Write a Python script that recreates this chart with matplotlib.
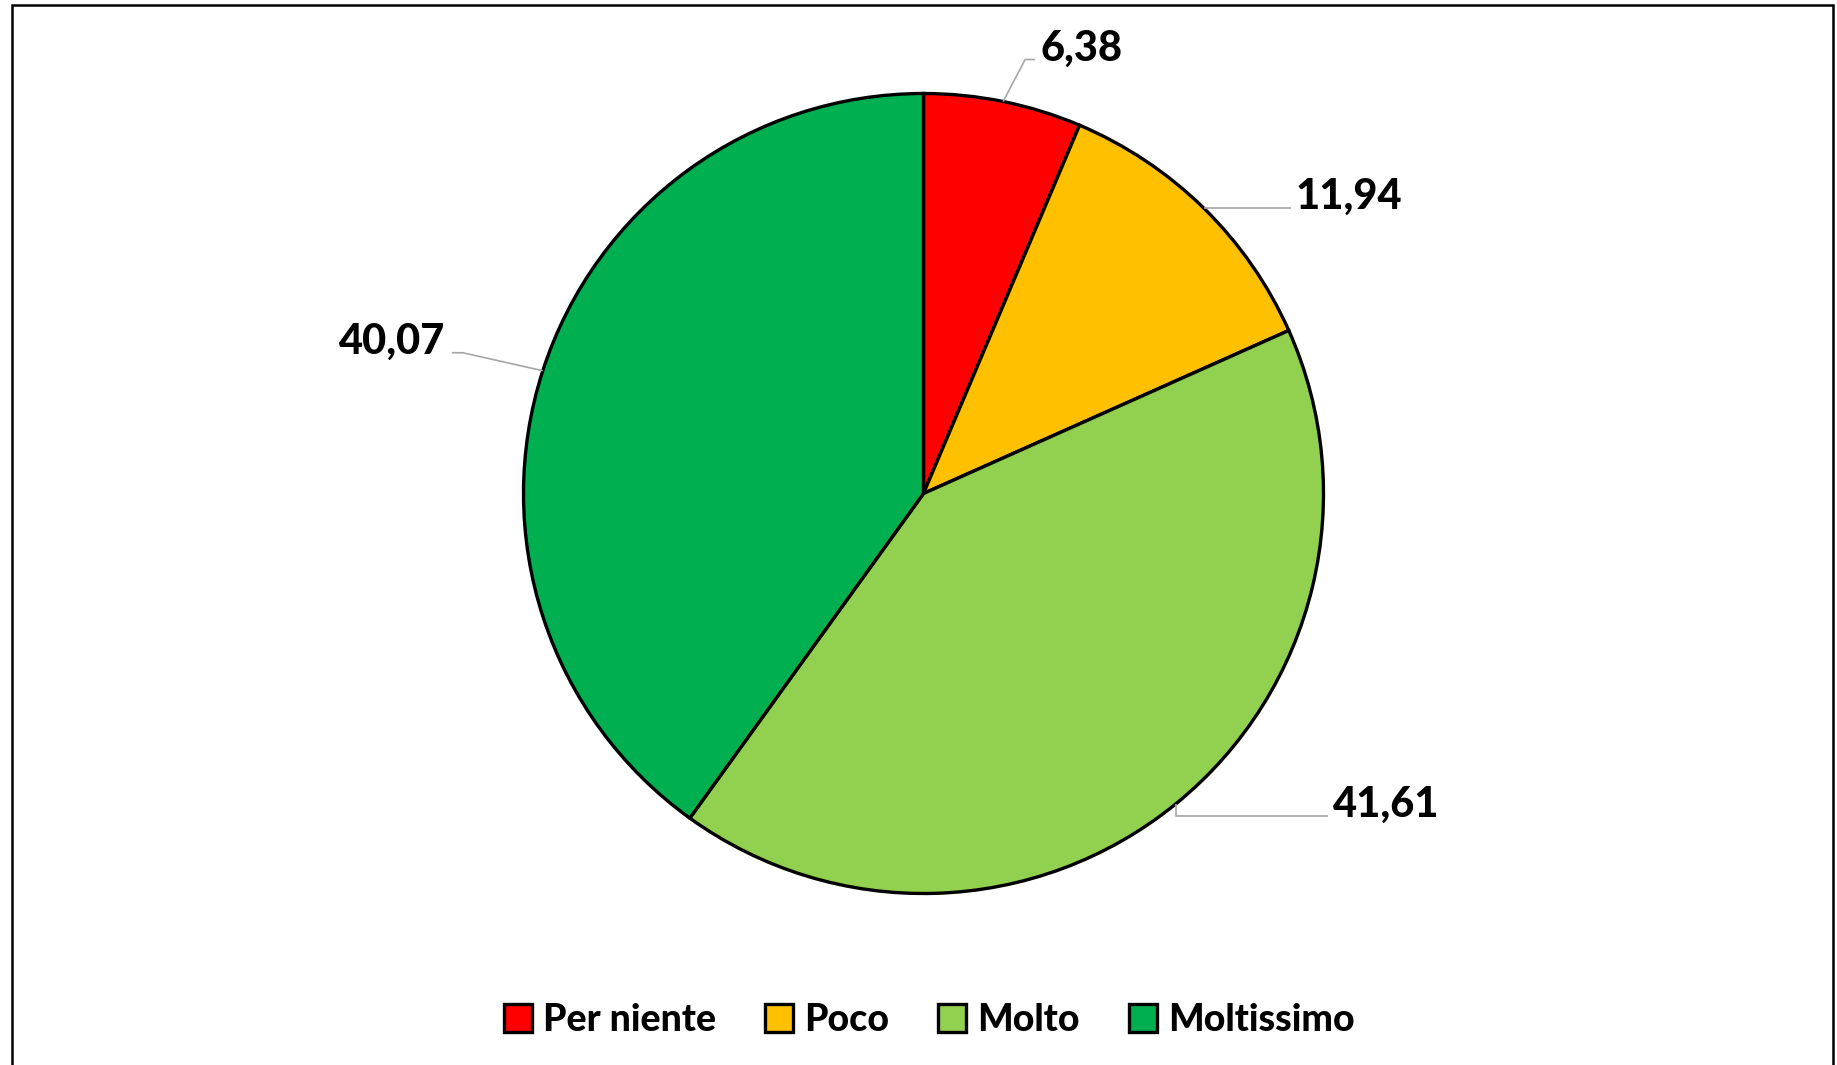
import numpy as np
import matplotlib.pyplot as plt
from matplotlib.patches import Rectangle

categories = ["Per niente", "Poco", "Molto", "Moltissimo"]
values = [6.38, 11.94, 41.61, 40.07]
labels = ["6,38", "11,94", "41,61", "40,07"]
colors = ["#FF0000", "#FFC000", "#92D050", "#00B050"]

W, H = 1837, 1065
fig = plt.figure(figsize=(W / 100, H / 100), dpi=100)
ax = fig.add_axes([0, 0, 1, 1])

# pixel coordinates, y upward
cx, cy, r = 923.5, H - 493.5, 400

wedges, _ = ax.pie(
    values,
    colors=colors,
    startangle=90,
    counterclock=False,
    center=(cx, cy),
    radius=r,
    wedgeprops=dict(edgecolor="black", linewidth=2.4),
)

ax.set_xlim(0, W)
ax.set_ylim(0, H)
ax.set_aspect("equal")
ax.axis("off")

# leader lines + labels: (elbow dx, elbow dy, end dx, text side)
layout = [
    (22, 42, 10, "left"),
    (0, 0, 87, "left"),
    (0, -12, 152, "left"),
    (-80, 18, -11, "right"),
]

for w, lab, (ex, ey, hx, side) in zip(wedges, labels, layout):
    ang = np.deg2rad((w.theta1 + w.theta2) / 2)
    x0 = cx + r * np.cos(ang)
    y0 = cy + r * np.sin(ang)
    x1, y1 = x0 + ex, y0 + ey
    x2 = x1 + hx
    ax.plot([x0, x1, x2], [y0, y1, y1], color="#A6A6A6", lw=1.2,
            solid_capstyle="butt", zorder=1)
    tx = x2 + 5 if side == "left" else x2 - 7
    ax.text(tx, y1 + 11, lab, ha=side, va="center", fontsize=30,
            fontweight="black", family="Lato", color="black")

# frame border (bottom edge outside the picture)
ax.add_patch(Rectangle((12, -20), 1821, H - 5 + 20, fill=False,
                       edgecolor="black", linewidth=1.8, clip_on=False))

leg = fig.legend(
    wedges,
    categories,
    loc="center",
    bbox_to_anchor=(929 / W, 1 - 1020 / H),
    ncol=4,
    frameon=False,
    prop=dict(family="Lato", weight="black", size=27),
    handlelength=0.75,
    handleheight=0.75,
    handletextpad=0.3,
    columnspacing=1.3,
)

fig.savefig("out.png", dpi=100)
